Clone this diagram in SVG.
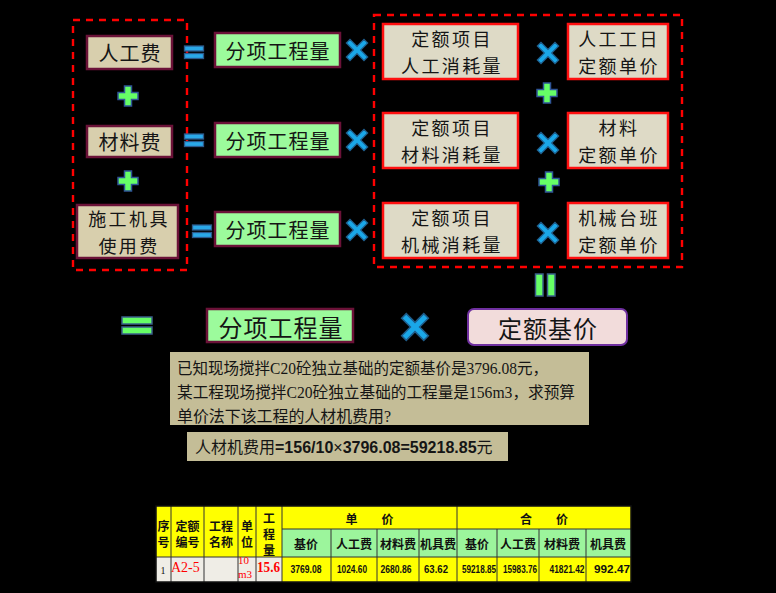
<svg xmlns="http://www.w3.org/2000/svg" width="776" height="593" viewBox="0 0 776 593">
<style>
.dash{fill:none;stroke:#FF0000;stroke-width:2.4;stroke-dasharray:7 6}
.tan{fill:#D8CFAD;stroke:#6B1238;stroke-width:2.5}
.grn{fill:#9CFB9C;stroke:#6B1238;stroke-width:2.5}
.gry{fill:#DEDAC6;stroke:#FF1010;stroke-width:2.5}
.pink{fill:#F2DCDB;stroke:#7030A0;stroke-width:2}
.note{fill:#C4BD97}
.t{font-family:"Noto Sans CJK SC","Noto Sans CJK JP",sans-serif;fill:#151515;text-anchor:middle;dominant-baseline:central}
.s20{font-size:20px;letter-spacing:1px}
.s18{font-size:18px;letter-spacing:2.4px}
.s24{font-size:24px;letter-spacing:1px}
.q{font-family:"Liberation Serif","Noto Sans CJK SC",serif;font-size:16px;fill:#151515;dominant-baseline:central}
.a{font-family:"Liberation Sans","Noto Sans CJK SC",sans-serif;font-size:16px;fill:#151515;dominant-baseline:central}
.th{font-family:"Noto Sans CJK SC",sans-serif;font-size:12px;font-weight:700;fill:#111;text-anchor:middle;dominant-baseline:central}
.num{font-family:"Liberation Sans",Arial,sans-serif;font-size:10px;font-weight:700;fill:#111;text-anchor:middle;dominant-baseline:central}
.red{font-family:"Liberation Serif",serif;fill:#FF0000;dominant-baseline:central}
.grid{stroke:#333;stroke-width:1}
.plus{fill:#66FF66;stroke:#2F5597;stroke-width:1.5}
.times{fill:#1AA7E8;stroke:#1F5C8A;stroke-width:1.2}
.eqb{fill:#2AA8E8;stroke:#2C5A8C;stroke-width:1.3}
.eqg{fill:#66FF66;stroke:#3A5F8A;stroke-width:1.5}
</style>
<defs>
<path id="plus" class="plus" d="M-3.5,-10H3.5V-3.5H10V3.5H3.5V10H-3.5V3.5H-10V-3.5H-3.5Z"/>
<path id="times" class="times" d="M-2.6,-12.5H2.6V-2.6H12.5V2.6H2.6V12.5H-2.6V2.6H-12.5V-2.6H-2.6Z" transform="rotate(45)"/>
<g id="eqb"><rect class="eqb" x="-9.5" y="-6" width="19" height="5"/><rect class="eqb" x="-9.5" y="1.5" width="19" height="5"/></g>
</defs>
<rect width="776" height="593" fill="#000"/>

<g id="group-left"><rect class="dash" x="73" y="20" width="114" height="250"/></g>
<g id="group-right"><rect class="dash" x="374" y="15" width="308" height="252"/></g>

<g id="rengong"><rect class="tan" x="87" y="36" width="85" height="33"/><text class="t s20" x="130" y="52" letter-spacing="2">人工费</text></g>
<g id="cailiao"><rect class="tan" x="87" y="126" width="85" height="31"/><text class="t s20" x="130" y="141" letter-spacing="2">材料费</text></g>
<g id="jiju"><rect class="tan" x="77" y="205" width="101" height="53"/><text class="t s18" x="129" y="218.25">施工机具<tspan x="129" dy="26.5">使用费</tspan></text></g>

<g id="liang1"><rect class="grn" x="215" y="33" width="125" height="34"/><text class="t s20" x="278" y="50">分项工程量</text></g>
<g id="liang2"><rect class="grn" x="215" y="123" width="125" height="34"/><text class="t s20" x="278" y="140">分项工程量</text></g>
<g id="liang3"><rect class="grn" x="215" y="212" width="125" height="34"/><text class="t s20" x="278" y="229">分项工程量</text></g>

<g id="xiaohao1"><rect class="gry" x="383" y="24" width="135" height="55"/><text class="t s18" x="452" y="38.25">定额项目<tspan x="452" dy="26.5">人工消耗量</tspan></text></g>
<g id="xiaohao2"><rect class="gry" x="383" y="113" width="135" height="55"/><text class="t s18" x="452" y="127.25">定额项目<tspan x="452" dy="26.5">材料消耗量</tspan></text></g>
<g id="xiaohao3"><rect class="gry" x="383" y="203" width="135" height="55"/><text class="t s18" x="452" y="217.25">定额项目<tspan x="452" dy="26.5">机械消耗量</tspan></text></g>

<g id="danjia1"><rect class="gry" x="568" y="24" width="100" height="55"/><text class="t s18" x="619" y="38.25">人工工日<tspan x="619" dy="26.5">定额单价</tspan></text></g>
<g id="danjia2"><rect class="gry" x="568" y="113" width="100" height="55"/><text class="t s18" x="619" y="127.25">材料<tspan x="619" dy="26.5">定额单价</tspan></text></g>
<g id="danjia3"><rect class="gry" x="568" y="203" width="100" height="55"/><text class="t s18" x="619" y="217.25">机械台班<tspan x="619" dy="26.5">定额单价</tspan></text></g>

<g id="liang-total"><rect class="grn" x="207" y="309" width="146" height="33"/><text class="t s24" x="281" y="326">分项工程量</text></g>
<g id="jijia"><rect class="pink" x="468" y="309" width="159" height="36" rx="6"/><text class="t s24" x="548" y="327">定额基价</text></g>

<g id="operators">
<use href="#eqb" x="194" y="52"/>
<use href="#eqb" x="194" y="140"/>
<use href="#eqb" x="202" y="231"/>
<use href="#plus" x="128" y="96"/>
<use href="#plus" x="128" y="181"/>
<use href="#plus" x="547" y="93"/>
<use href="#plus" x="549" y="182"/>
<use href="#times" x="357" y="50"/>
<use href="#times" x="357" y="140"/>
<use href="#times" x="357" y="230"/>
<use href="#times" x="548" y="53"/>
<use href="#times" x="548" y="143"/>
<use href="#times" x="548" y="233"/>
<g transform="translate(415,327) scale(1.25)"><use href="#times"/></g>
<rect class="eqg" x="122" y="317" width="30" height="7"/>
<rect class="eqg" x="122" y="327" width="30" height="7"/>
<rect class="eqg" x="535.5" y="274" width="7.5" height="22"/>
<rect class="eqg" x="547.5" y="274" width="7.5" height="22"/>
</g>

<g id="question">
<rect class="note" x="170" y="352" width="419" height="73"/>
<text class="q" x="177" y="368" textLength="371" lengthAdjust="spacingAndGlyphs">已知现场搅拌C20砼独立基础的定额基价是3796.08元，</text>
<text class="q" x="177" y="392" textLength="398" lengthAdjust="spacingAndGlyphs">某工程现场搅拌C20砼独立基础的工程量是156m3，求预算</text>
<text class="q" x="177" y="416" textLength="214" lengthAdjust="spacingAndGlyphs">单价法下该工程的人材机费用?</text>
</g>

<g id="answer">
<rect class="note" x="187" y="432" width="321" height="29"/>
<text class="a" x="195" y="447">人材机费用<tspan font-weight="700">=156/10</tspan>×<tspan font-weight="700">3796.08=59218.85</tspan>元</text>
</g>

<g id="table">
<rect x="156" y="506" width="475" height="51" fill="#FFFF00"/>
<rect x="282" y="529" width="349" height="28" fill="#9CF59C"/>
<rect x="156" y="557" width="126" height="25" fill="#EFEDE6"/>
<rect x="282" y="557" width="349" height="25" fill="#FFFF00"/>
<g class="grid">
<line x1="282" y1="529" x2="631" y2="529"/>
<line x1="156" y1="557" x2="631" y2="557"/>
<line x1="171" y1="506" x2="171" y2="582"/>
<line x1="204" y1="506" x2="204" y2="582"/>
<line x1="238" y1="506" x2="238" y2="582"/>
<line x1="256" y1="506" x2="256" y2="582"/>
<line x1="282" y1="506" x2="282" y2="582"/>
<line x1="331" y1="529" x2="331" y2="582"/>
<line x1="377" y1="529" x2="377" y2="582"/>
<line x1="419" y1="529" x2="419" y2="582"/>
<line x1="457" y1="506" x2="457" y2="582"/>
<line x1="497" y1="529" x2="497" y2="582"/>
<line x1="539" y1="529" x2="539" y2="582"/>
<line x1="586" y1="529" x2="586" y2="582"/>
<rect x="156" y="506" width="475" height="76" fill="none" stroke="#111" stroke-width="1.5"/>
</g>
<text class="th" x="163.5" y="525">序</text><text class="th" x="163.5" y="541">号</text>
<text class="th" x="187.5" y="525">定额</text><text class="th" x="187.5" y="541">编号</text>
<text class="th" x="221" y="525">工程</text><text class="th" x="221" y="541">名称</text>
<text class="th" x="247" y="525">单</text><text class="th" x="247" y="541">位</text>
<text class="th" x="269" y="517">工</text><text class="th" x="269" y="533">程</text><text class="th" x="269" y="549">量</text>
<text class="th" x="369.5" y="518" font-size="13">单　　价</text>
<text class="th" x="544" y="518" font-size="13">合　　价</text>
<text class="th" x="306" y="543">基价</text>
<text class="th" x="354" y="543">人工费</text>
<text class="th" x="398" y="543">材料费</text>
<text class="th" x="438" y="543">机具费</text>
<text class="th" x="477" y="543">基价</text>
<text class="th" x="518" y="543">人工费</text>
<text class="th" x="562" y="543">材料费</text>
<text class="th" x="608" y="543">机具费</text>
<text x="163" y="570" font-family="'Liberation Serif',serif" font-size="10" fill="#111" text-anchor="middle" dominant-baseline="central">1</text>
<text class="red" x="171" y="567" font-size="14">A2-5</text>
<text class="red" x="238" y="560" font-size="11">10</text>
<text class="red" x="238" y="574" font-size="11">m3</text>
<text class="red" x="257" y="567" font-size="15" font-weight="700" textLength="23" lengthAdjust="spacingAndGlyphs">15.6</text>
<text class="num" x="306" y="569" textLength="31" lengthAdjust="spacingAndGlyphs">3769.08</text>
<text class="num" x="352" y="569" textLength="30" lengthAdjust="spacingAndGlyphs">1024.60</text>
<text class="num" x="396" y="569" textLength="31" lengthAdjust="spacingAndGlyphs">2680.86</text>
<text class="num" x="436" y="569" textLength="24" lengthAdjust="spacingAndGlyphs">63.62</text>
<text class="num" x="479" y="569" textLength="34" lengthAdjust="spacingAndGlyphs">59218.85</text>
<text class="num" x="520" y="569" textLength="34" lengthAdjust="spacingAndGlyphs">15983.76</text>
<text class="num" x="567" y="569" textLength="35" lengthAdjust="spacingAndGlyphs">41821.42</text>
<text class="num" x="612" y="569" textLength="36" lengthAdjust="spacingAndGlyphs">992.47</text>
</g>
</svg>
